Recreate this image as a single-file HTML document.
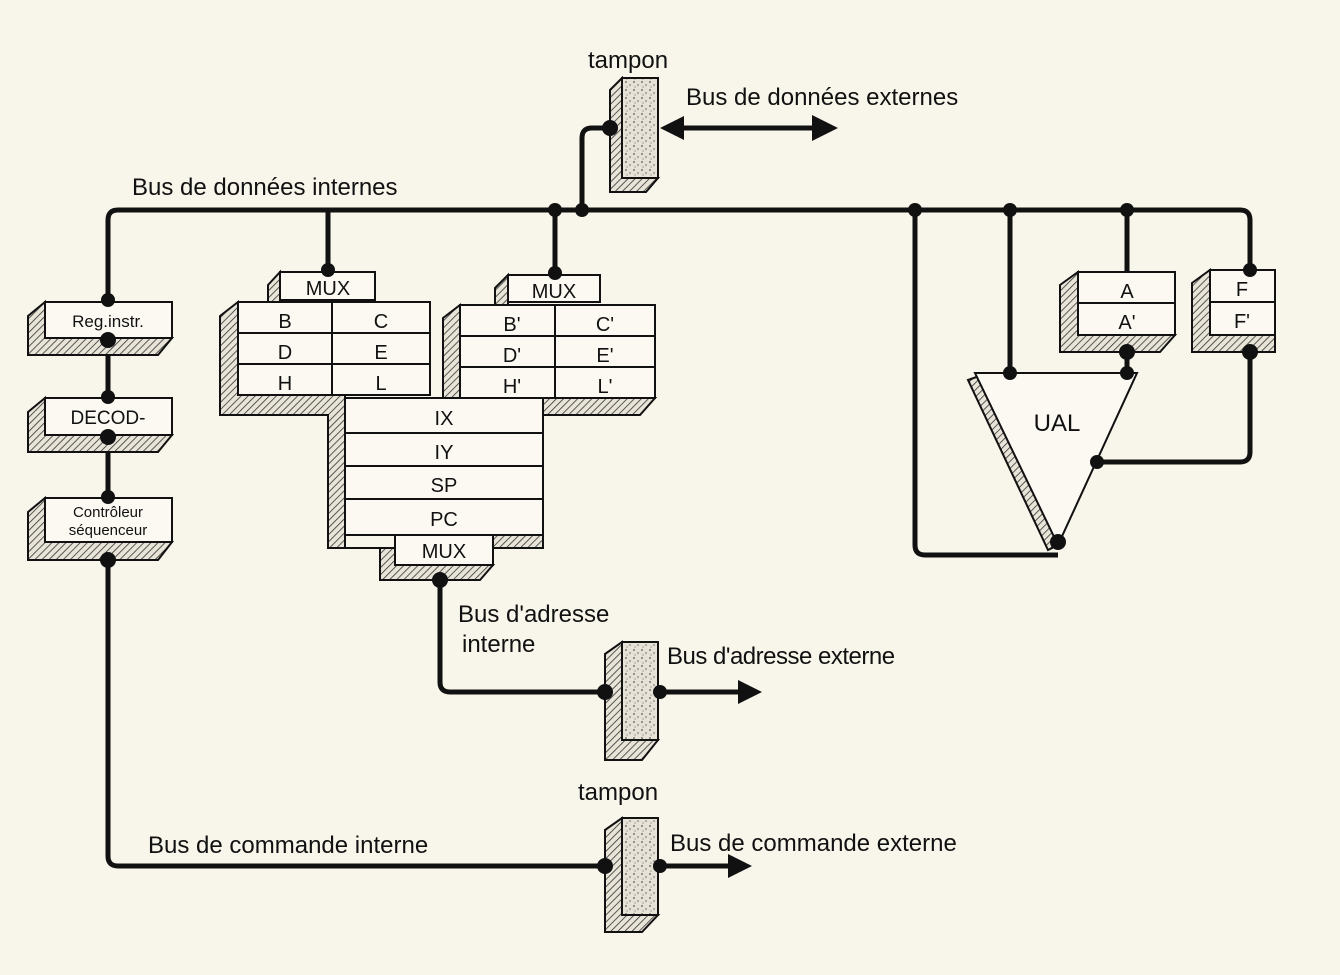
<!DOCTYPE html>
<html><head><meta charset="utf-8"><style>
html,body{margin:0;padding:0;background:#f8f5ea;}
svg{display:block}
text{font-family:"Liberation Sans",sans-serif;fill:#111}
</style></head><body>
<svg width="1340" height="975" viewBox="0 0 1340 975" xmlns="http://www.w3.org/2000/svg">
<defs>
<pattern id="h" width="5" height="5" patternUnits="userSpaceOnUse" patternTransform="rotate(45)">
<rect width="5" height="5" fill="#e8e4d8"/><line x1="0" y1="0" x2="0" y2="5" stroke="#333" stroke-width="1.6"/></pattern>
<pattern id="s" width="8" height="8" patternUnits="userSpaceOnUse">
<rect width="8" height="8" fill="#e6e2d6"/><circle cx="2" cy="2" r="0.9" fill="#555"/><circle cx="6" cy="5" r="0.8" fill="#666"/><circle cx="3" cy="7" r="0.6" fill="#777"/></pattern>
</defs>
<rect width="1340" height="975" fill="#f8f5ea"/>
<g fill="none" stroke="#111" stroke-width="5" stroke-linejoin="round">
<path d="M108 302 V220 Q108 210 118 210 H1240 Q1250 210 1250 220 V270"/>
<path d="M582 210 V138 Q582 128 592 128 H613"/>
<line x1="680" y1="128" x2="815" y2="128"/>
<line x1="328" y1="210" x2="328" y2="272"/>
<line x1="555" y1="210" x2="555" y2="275"/>
<path d="M915 210 V545 Q915 555 925 555 H1058"/>
<line x1="1010" y1="210" x2="1010" y2="373"/>
<line x1="1127" y1="210" x2="1127" y2="272"/>
<line x1="1127" y1="352" x2="1127" y2="373"/>
<path d="M1250 352 V452 Q1250 462 1240 462 H1097"/>
<path d="M440 580 V682 Q440 692 450 692 H605"/>
<line x1="658" y1="692" x2="740" y2="692"/>
<line x1="108" y1="338" x2="108" y2="398"/>
<line x1="108" y1="435" x2="108" y2="498"/>
<path d="M108 560 V856 Q108 866 118 866 H605"/>
<line x1="658" y1="866" x2="730" y2="866"/>
</g>
<g fill="#111">
<polygon points="660,128 684,116 684,140"/>
<polygon points="838,128 812,115 812,141"/>
<polygon points="762,692 738,680 738,704"/>
<polygon points="752,866 728,854 728,878"/>
</g>
<g stroke="#111" stroke-width="2">
<polygon points="610,90 622,78 622,178 658,178 646,192 610,192" fill="url(#h)"/>
<rect x="622" y="78" width="36" height="100" fill="url(#s)"/>
<polygon points="605,654 622,642 622,740 658,740 642,760 605,760" fill="url(#h)"/>
<rect x="622" y="642" width="36" height="98" fill="url(#s)"/>
<polygon points="605,830 622,818 622,915 658,915 642,932 605,932" fill="url(#h)"/>
<rect x="622" y="818" width="36" height="97" fill="url(#s)"/>
<polygon points="28,316 45,302 45,338 172,338 158,355 28,355" fill="url(#h)"/>
<rect x="45" y="302" width="127" height="36" fill="#fbf9f2"/>
<polygon points="28,412 45,398 45,435 172,435 158,452 28,452" fill="url(#h)"/>
<rect x="45" y="398" width="127" height="37" fill="#fbf9f2"/>
<polygon points="28,512 45,498 45,542 172,542 158,560 28,560" fill="url(#h)"/>
<rect x="45" y="498" width="127" height="44" fill="#fbf9f2"/>
<!-- shadows of register blocks -->
<polygon points="268,285 280,272 280,302 268,302" fill="url(#h)"/>
<polygon points="220,316 238,302 238,395 345,395 345,548 328,548 328,415 220,415" fill="url(#h)"/>
<polygon points="328,548 395,548 395,565 493,565 480,580 380,580 380,548" fill="url(#h)"/>
<polygon points="493,535 543,535 543,548 493,548" fill="url(#h)"/>
<polygon points="495,288 508,275 508,305 495,305" fill="url(#h)"/>
<polygon points="443,318 460,305 460,398 443,398" fill="url(#h)"/>
<polygon points="543,398 655,398 640,415 543,415" fill="url(#h)"/>
<rect x="280" y="272" width="95" height="28" fill="#fbf9f2"/>
<rect x="238" y="302" width="192" height="93" fill="#fbf9f2"/>
<line x1="238" y1="333" x2="430" y2="333"/><line x1="238" y1="364" x2="430" y2="364"/>
<line x1="332" y1="302" x2="332" y2="395"/>
<rect x="508" y="275" width="92" height="27" fill="#fbf9f2"/>
<rect x="460" y="305" width="195" height="93" fill="#fbf9f2"/>
<line x1="460" y1="336" x2="655" y2="336"/><line x1="460" y1="367" x2="655" y2="367"/>
<line x1="555" y1="305" x2="555" y2="398"/>
<rect x="345" y="398" width="198" height="137" fill="#fbf9f2"/>
<line x1="345" y1="433" x2="543" y2="433"/><line x1="345" y1="466" x2="543" y2="466"/><line x1="345" y1="499" x2="543" y2="499"/>
<rect x="395" y="535" width="98" height="30" fill="#fbf9f2"/>
<polygon points="1060,285 1078,272 1078,335 1175,335 1160,352 1060,352" fill="url(#h)"/>
<rect x="1078" y="272" width="97" height="63" fill="#fbf9f2"/>
<line x1="1078" y1="303" x2="1175" y2="303"/>
<polygon points="1192,283 1210,270 1210,335 1275,335 1275,352 1192,352" fill="url(#h)"/>
<rect x="1210" y="270" width="65" height="65" fill="#fbf9f2"/>
<line x1="1210" y1="302" x2="1275" y2="302"/>
<polygon points="968,380 982,375 1058,545 1048,550" fill="url(#h)"/>
<polygon points="975,373 1137,373 1058,545" fill="#fbf9f2"/>
</g>
<g fill="#111">
<circle cx="555" cy="210" r="7"/><circle cx="582" cy="210" r="7"/><circle cx="915" cy="210" r="7"/><circle cx="1010" cy="210" r="7"/><circle cx="1127" cy="210" r="7"/>
<circle cx="610" cy="128" r="8"/><circle cx="328" cy="270" r="7"/><circle cx="555" cy="273" r="7"/>
<circle cx="108" cy="300" r="7"/><circle cx="108" cy="340" r="8"/><circle cx="108" cy="397" r="7"/><circle cx="108" cy="437" r="8"/><circle cx="108" cy="497" r="7"/><circle cx="108" cy="560" r="8"/>
<circle cx="440" cy="580" r="8"/><circle cx="605" cy="692" r="8"/><circle cx="660" cy="692" r="7"/><circle cx="605" cy="866" r="8"/><circle cx="660" cy="866" r="7"/>
<circle cx="1010" cy="373" r="7"/><circle cx="1127" cy="352" r="8"/><circle cx="1127" cy="373" r="7"/><circle cx="1250" cy="270" r="7"/><circle cx="1250" cy="352" r="8"/><circle cx="1097" cy="462" r="7"/><circle cx="1058" cy="542" r="8"/>
</g>
<g font-size="24">
<text x="588" y="68">tampon</text>
<text x="686" y="105">Bus de données externes</text>
<text x="132" y="195">Bus de données internes</text>
<text x="458" y="622">Bus d'adresse</text>
<text x="462" y="652">interne</text>
<text x="667" y="664" letter-spacing="-0.5">Bus d'adresse externe</text>
<text x="578" y="800">tampon</text>
<text x="148" y="853">Bus de commande interne</text>
<text x="670" y="851">Bus de commande externe</text>
</g>
<g font-size="20" text-anchor="middle">
<text x="328" y="295">MUX</text><text x="554" y="298">MUX</text>
<text x="285" y="328">B</text><text x="381" y="328">C</text>
<text x="285" y="359">D</text><text x="381" y="359">E</text>
<text x="285" y="390">H</text><text x="381" y="390">L</text>
<text x="512" y="331">B'</text><text x="605" y="331">C'</text>
<text x="512" y="362">D'</text><text x="605" y="362">E'</text>
<text x="512" y="393">H'</text><text x="605" y="393">L'</text>
<text x="444" y="425">IX</text><text x="444" y="459">IY</text><text x="444" y="492">SP</text><text x="444" y="526">PC</text>
<text x="444" y="558">MUX</text>
<text x="1127" y="298">A</text><text x="1127" y="329">A'</text>
<text x="1242" y="296">F</text><text x="1242" y="328">F'</text>
<text x="1057" y="431" font-size="24">UAL</text>
<text x="108" y="327" font-size="17">Reg.instr.</text>
<text x="108" y="424" font-size="19">DECOD-</text>
<text x="108" y="517" font-size="15">Contrôleur</text>
<text x="108" y="535" font-size="15">séquenceur</text>
</g>
</svg>
</body></html>
